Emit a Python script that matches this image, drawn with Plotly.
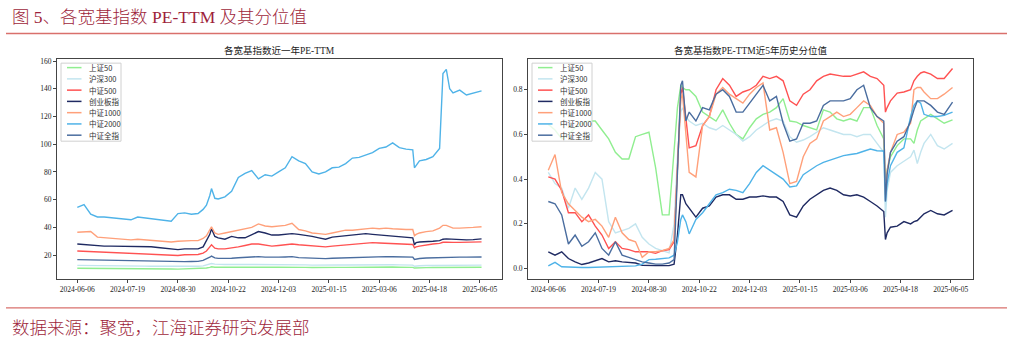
import plotly.graph_objects as go

# ---------------- data ----------------
# trading-day index (0 = 2024-06-06) of each sampled observation
day_idx = [0, 4, 8, 12, 16, 20, 24, 28, 32, 36, 40, 44, 48, 52, 56, 60, 64, 68, 72,
           75, 77, 79, 80, 82,
           84, 88, 92, 96, 100, 104, 108, 112, 116, 120, 124, 128, 132, 136, 140, 144,
           148, 152, 156, 160, 164, 168, 172, 176, 180, 184, 188, 192, 196, 200,
           201, 202,
           204, 208, 212, 216,
           218, 220, 222, 224,
           228, 232, 236, 241]

tick_idx = [0, 30, 60, 90, 120, 150, 180, 210, 240]
tick_labels = ["2024-06-06", "2024-07-19", "2024-08-30", "2024-10-22", "2024-12-03",
               "2025-01-15", "2025-03-06", "2025-04-18", "2025-06-05"]

names = ["上证50", "沪深300", "中证500", "创业板指", "中证1000", "中证2000", "中证全指"]

# PE-TTM (last year)
pe_sz50 = [10.5, 10.5, 10.4, 10.4, 10.3, 10.3, 10.3, 10.2, 10.2, 10.2, 10.2, 10.1, 10.1, 10.0, 10.0, 9.9, 10.0, 10.0, 10.1,
           10.4, 10.7, 11.2, 11.6, 11.3,
           11.2, 11.2, 11.3, 11.3, 11.4, 11.5, 11.5, 11.4, 11.3, 11.3, 11.4, 11.5, 11.3, 11.2, 11.1, 11.0, 11.0, 11.1, 11.2, 11.2,
           11.3, 11.3, 11.3, 11.3, 11.3, 11.3, 11.4, 11.3, 11.3, 11.2,
           10.7, 10.8,
           10.9, 11.0, 11.1, 11.1,
           11.2, 11.2, 11.2, 11.2,
           11.2, 11.2, 11.3, 11.3]
pe_hs300 = [12.6, 12.6, 12.5, 12.4, 12.4, 12.3, 12.3, 12.2, 12.2, 12.1, 12.1, 12.0, 12.0, 11.9, 11.8, 11.7, 11.9, 11.9, 12.0,
            12.3, 12.8, 13.5, 14.0, 13.5,
            13.3, 13.2, 13.3, 13.3, 13.4, 13.5, 13.5, 13.3, 13.2, 13.2, 13.3, 13.4, 13.1, 13.0, 12.8, 12.7, 12.7, 12.8, 12.9, 12.9,
            13.0, 13.0, 13.0, 13.0, 13.0, 13.0, 13.1, 13.0, 12.9, 12.8,
            12.0, 12.2,
            12.3, 12.5, 12.6, 12.7,
            12.7, 12.7, 12.7, 12.7,
            12.7, 12.7, 12.8, 12.8]
pe_zz500 = [23.0, 22.8, 22.3, 22.0, 21.8, 21.7, 21.5, 21.2, 21.0, 21.0, 20.8, 20.7, 20.5, 20.2, 20.0, 19.8, 20.3, 20.4, 20.5,
            21.5, 23.0, 26.0, 27.5, 25.0,
            24.5, 24.5, 25.0, 26.0, 27.0, 28.0, 28.0, 27.0, 26.5, 27.0, 27.3, 28.0, 27.5, 27.0, 27.0, 26.5, 26.0, 26.5, 27.0, 27.5,
            28.0, 28.2, 28.5, 29.0, 28.8, 28.5, 28.2, 28.0, 27.8, 27.7,
            25.3, 26.0,
            26.5, 27.5, 28.0, 28.5,
            29.3, 29.4, 29.2, 29.2,
            29.2, 29.3, 29.4, 29.6]
pe_cyb = [28.0, 27.5, 27.3, 26.5, 26.5, 26.5, 26.5, 26.5, 26.0, 26.5, 26.0, 26.0, 25.5, 25.0, 24.5, 24.0, 24.5, 24.5, 24.5,
          26.0, 30.0, 35.0, 39.0, 33.5,
          32.5, 31.5, 33.5, 32.5, 32.5, 35.0, 37.0, 36.0, 34.5, 34.5, 35.0, 35.5, 35.0, 34.5, 33.5, 32.5, 31.5, 33.0, 33.5, 34.5,
          35.0, 35.0, 35.5, 35.0, 34.5, 34.0, 33.5, 33.0, 32.5, 32.5,
          27.5, 29.0,
          29.5, 29.5, 30.0, 30.5,
          31.5, 31.7, 31.5, 31.5,
          31.0, 31.0, 31.2, 31.7]
pe_zz1000 = [36.5, 37.0, 37.0, 33.0, 32.5, 32.0, 31.5, 31.5, 31.0, 31.5, 31.0, 31.0, 30.5, 30.0, 29.5, 30.0, 30.5, 30.5, 30.5,
             32.0, 34.0, 38.0, 40.5, 36.0,
             35.0, 36.0, 37.0, 38.0, 38.5, 40.0, 42.5, 41.0, 40.5, 41.0, 41.5, 43.0, 38.5, 37.5, 36.0, 35.5, 35.0, 36.0, 37.0, 38.0,
             38.0, 38.5, 39.5, 39.5, 39.0, 39.5, 39.0, 38.5, 38.5, 38.5,
             34.0, 35.0,
             36.0, 37.0, 37.5, 39.5,
             41.5, 41.5, 40.5, 39.5,
             39.5, 39.5, 40.0, 40.5]
pe_zz2000 = [54.5, 56.5, 49.5, 47.5, 47.5, 47.0, 46.0, 46.0, 45.5, 47.5, 47.0, 46.0, 45.5, 45.0, 44.5, 50.0, 50.5, 49.5, 50.0,
             53.0, 56.0, 63.0, 68.0, 61.0,
             60.5, 62.0, 66.0, 76.0, 79.0, 81.0, 75.0, 78.0, 77.0, 80.0, 83.0, 91.0, 88.0, 86.0, 80.0, 78.5, 80.0, 83.0, 83.5, 86.0,
             90.0, 90.5, 92.5, 94.0, 97.0, 98.0, 101.0, 97.5, 96.5, 96.0,
             83.0, 84.5,
             88.0, 89.0, 91.0, 97.0,
             151.0, 154.0, 140.0, 137.0,
             139.0, 135.5, 137.0, 138.5]
pe_zzqz = [16.8, 16.7, 16.5, 16.3, 16.2, 16.2, 16.2, 16.1, 16.0, 16.0, 15.8, 15.7, 15.5, 15.3, 15.1, 15.0, 15.3, 15.4, 15.5,
           16.2, 17.2, 18.5, 19.3, 18.0,
           17.7, 17.6, 17.8, 18.1, 18.4, 18.7, 18.9, 18.6, 18.4, 18.6, 18.7, 18.9, 18.2, 18.0, 17.8, 17.6, 17.5, 17.8, 18.0, 18.2,
           18.4, 18.5, 18.7, 18.8, 18.8, 18.9, 18.8, 18.7, 18.6, 18.6,
           16.9, 17.3,
           17.6, 17.9, 18.1, 18.4,
           18.6, 18.7, 18.6, 18.6,
           18.6, 18.6, 18.6, 18.7]

# PE-TTM percentile over 5 years
pct_sz50 = [0.645, 0.62, 0.58, 0.60, 0.63, 0.65, 0.66, 0.66, 0.62, 0.58, 0.52, 0.49, 0.49, 0.59, 0.60, 0.61, 0.45, 0.24, 0.24,
            0.55, 0.72, 0.82, 0.81, 0.80,
            0.80, 0.77, 0.70, 0.68, 0.66, 0.71, 0.65, 0.60, 0.58, 0.63, 0.67, 0.69, 0.70, 0.72, 0.76, 0.66, 0.655, 0.64, 0.63, 0.62,
            0.71, 0.70, 0.67, 0.66, 0.67, 0.66, 0.72, 0.72, 0.64, 0.58,
            0.37, 0.44,
            0.50, 0.55, 0.58, 0.58,
            0.56, 0.62, 0.66, 0.67,
            0.69, 0.67, 0.65, 0.665]
pct_hs300 = [0.43, 0.38, 0.36, 0.27, 0.36, 0.31, 0.36, 0.43, 0.40, 0.21, 0.16, 0.17, 0.18, 0.20, 0.14, 0.11, 0.09, 0.08, 0.07,
             0.20, 0.50, 0.70, 0.72, 0.68,
             0.66, 0.64, 0.65, 0.63, 0.62, 0.64, 0.62, 0.60, 0.57, 0.59, 0.62, 0.64, 0.66, 0.67, 0.66, 0.59, 0.565, 0.575, 0.59, 0.61,
             0.63, 0.62, 0.61, 0.60, 0.60, 0.59, 0.60, 0.60, 0.56, 0.52,
             0.23, 0.35,
             0.43, 0.46, 0.48, 0.50,
             0.53, 0.47, 0.52, 0.56,
             0.60, 0.55, 0.535, 0.56]
pct_zz500 = [0.41, 0.40, 0.35, 0.25, 0.25, 0.21, 0.24, 0.19, 0.15, 0.09, 0.12, 0.09, 0.085, 0.075, 0.075, 0.075, 0.068, 0.08, 0.085,
             0.12, 0.45, 0.78, 0.81, 0.66,
             0.54, 0.55, 0.64, 0.68, 0.80, 0.85, 0.82, 0.77, 0.79, 0.80, 0.82, 0.86, 0.85, 0.86, 0.84, 0.75, 0.73, 0.78, 0.80, 0.84,
             0.86, 0.87, 0.865, 0.86, 0.86, 0.87, 0.88, 0.86, 0.85, 0.82,
             0.70, 0.72,
             0.75, 0.785, 0.79, 0.80,
             0.84, 0.86, 0.875, 0.88,
             0.87, 0.85, 0.85, 0.895]
pct_cyb = [0.075, 0.06, 0.075, 0.045, 0.03, 0.018, 0.025, 0.035, 0.045, 0.03, 0.035, 0.03, 0.028, 0.025, 0.015, 0.013, 0.013, 0.013, 0.013,
           0.02, 0.15, 0.33, 0.33, 0.29,
           0.27, 0.23, 0.27, 0.28, 0.32, 0.33, 0.33, 0.31, 0.31, 0.32, 0.32, 0.325, 0.32, 0.32, 0.30, 0.24, 0.23, 0.28, 0.31, 0.33,
           0.35, 0.36, 0.35, 0.33, 0.325, 0.33, 0.32, 0.30, 0.28, 0.255,
           0.13, 0.16,
           0.185, 0.19, 0.21, 0.20,
           0.21, 0.215, 0.23, 0.245,
           0.26, 0.245, 0.24, 0.26]
pct_zz1000 = [0.44, 0.51, 0.34, 0.29, 0.26, 0.23, 0.21, 0.22, 0.19, 0.14, 0.23, 0.16, 0.13, 0.12, 0.05, 0.075, 0.075, 0.08, 0.09,
              0.13, 0.45, 0.76, 0.78, 0.60,
              0.43, 0.41, 0.64, 0.68, 0.78, 0.81, 0.78, 0.76, 0.74, 0.78, 0.81, 0.83, 0.62, 0.63, 0.52, 0.38, 0.39, 0.50, 0.56, 0.58,
              0.66, 0.68, 0.70, 0.68, 0.69, 0.72, 0.75, 0.73, 0.68, 0.65,
              0.33, 0.44,
              0.52, 0.60, 0.61, 0.65,
              0.80, 0.81, 0.81, 0.79,
              0.76, 0.76, 0.78, 0.81]
pct_zz2000 = [0.012, 0.028, 0.008, 0.006, 0.005, 0.005, 0.005, 0.006, 0.006, 0.005, 0.006, 0.008, 0.01, 0.012, 0.02, 0.04, 0.042, 0.045, 0.048,
              0.06, 0.12, 0.22, 0.24, 0.21,
              0.155, 0.22, 0.25, 0.29, 0.33, 0.34, 0.355, 0.35, 0.34, 0.38, 0.43, 0.46, 0.44, 0.42, 0.40, 0.365, 0.37, 0.42, 0.44, 0.46,
              0.475, 0.485, 0.495, 0.505, 0.51, 0.515, 0.525, 0.535, 0.527, 0.526,
              0.30, 0.38,
              0.46, 0.52, 0.54, 0.68,
              0.73, 0.75, 0.74, 0.69,
              0.68, 0.68, 0.685, 0.70]
pct_zzqz = [0.30, 0.29, 0.24, 0.11, 0.15, 0.10, 0.12, 0.16, 0.09, 0.06, 0.12, 0.06, 0.05, 0.04, 0.03, 0.025, 0.02, 0.02, 0.025,
            0.04, 0.40, 0.82, 0.84, 0.66,
            0.70, 0.66, 0.72, 0.71, 0.78, 0.80, 0.77, 0.70, 0.70, 0.74, 0.78, 0.82, 0.75, 0.77, 0.65, 0.57, 0.58, 0.65, 0.65, 0.66,
            0.73, 0.75, 0.75, 0.75, 0.76, 0.80, 0.82, 0.72, 0.68, 0.66,
            0.30, 0.42,
            0.52, 0.57, 0.59, 0.66,
            0.71, 0.75, 0.75, 0.75,
            0.73, 0.70, 0.69, 0.745]

pe_series = [pe_sz50, pe_hs300, pe_zz500, pe_cyb, pe_zz1000, pe_zz2000, pe_zzqz]
pct_series = [pct_sz50, pct_hs300, pct_zz500, pct_cyb, pct_zz1000, pct_zz2000, pct_zzqz]

# ---------------- style ----------------
colors = ["#90ee90", "#c3e5ef", "#ff5252", "#1f2a62", "#ffa07a", "#4fb3e8", "#4a6d9f"]
W, H = 1013, 339
L1, R1 = 57, 502
L2, R2 = 528, 973
TOP, BOT = 57, 278.5
RED = "#9e1f3b"
SERIF = "Liberation Serif, Noto Sans CJK SC"
CJK = "Noto Sans CJK SC"

fig = go.Figure()
for k, nm in enumerate(names):
    fig.add_trace(go.Scatter(x=day_idx, y=pe_series[k], mode="lines", name=nm,
                             line=dict(color=colors[k], width=1.4), showlegend=False,
                             xaxis="x", yaxis="y"))
for k, nm in enumerate(names):
    fig.add_trace(go.Scatter(x=day_idx, y=pct_series[k], mode="lines", name=nm,
                             line=dict(color=colors[k], width=1.4), showlegend=False,
                             xaxis="x2", yaxis="y2"))

ydom = [1 - BOT / H, 1 - TOP / H]
axis_common = dict(showline=True, mirror=True, linecolor="#444", linewidth=1,
                   ticks="outside", ticklen=3, tickwidth=1, tickcolor="#444",
                   showgrid=False, zeroline=False,
                   tickfont=dict(family=SERIF, size=7.5, color="#222"))
xr = [-12.1, 253.2]
fig.update_layout(
    width=W, height=H, margin=dict(l=0, r=0, t=0, b=0),
    paper_bgcolor="white", plot_bgcolor="white", showlegend=False,
    xaxis=dict(domain=[L1 / W, R1 / W], range=xr, tickmode="array",
               tickvals=tick_idx, ticktext=tick_labels, anchor="y", **axis_common),
    yaxis=dict(domain=ydom, range=[2.9, 161.7], tickmode="array",
               tickvals=[20, 40, 60, 80, 100, 120, 140, 160], anchor="x", **axis_common),
    xaxis2=dict(domain=[L2 / W, R2 / W], range=xr, tickmode="array",
                tickvals=tick_idx, ticktext=tick_labels, anchor="y2", **axis_common),
    yaxis2=dict(domain=ydom, range=[-0.046, 0.939], tickmode="array",
                tickvals=[0.0, 0.2, 0.4, 0.6, 0.8], tickformat=".1f", anchor="x2", **axis_common),
)

shapes = []
annots = []
# header / footer
annots.append(dict(text="图 5、各宽基指数 PE-TTM 及其分位值", x=10 / W, y=1 - 15 / H,
                   xref="paper", yref="paper", xanchor="left", yanchor="middle",
                   showarrow=False, font=dict(family=SERIF, size=17.5, color=RED, weight=300)))
annots.append(dict(text="数据来源：聚宽，江海证券研究发展部", x=10 / W, y=1 - 326.5 / H,
                   xref="paper", yref="paper", xanchor="left", yanchor="middle",
                   showarrow=False, font=dict(family=CJK, size=17.5, color=RED, weight=300)))
for yy in (31.7, 307.7):
    shapes.append(dict(type="line", xref="paper", yref="paper", x0=6 / W, x1=1007 / W,
                       y0=1 - yy / H, y1=1 - yy / H, line=dict(color="#d9706c", width=1.3)))

# subplot titles
for (l, r), txt in (((L1, R1), "各宽基指数近一年PE-TTM"), ((L2, R2), "各宽基指数PE-TTM近5年历史分位值")):
    annots.append(dict(text=txt, x=(l + r) / 2 / W, y=1 - 49 / H, xref="paper", yref="paper",
                       xanchor="center", yanchor="middle", showarrow=False,
                       font=dict(family=SERIF, size=9.5, color="#222")))

# legends
pw = R1 - L1
ph = BOT - TOP
for ax, (xd, yd) in (("", ("x domain", "y domain")), ("2", ("x2 domain", "y2 domain"))):
    shapes.append(dict(type="rect", xref=xd, yref=yd, x0=4 / pw, x1=64 / pw,
                       y0=1 - 83 / ph, y1=1 - 4.5 / ph, layer="above",
                       fillcolor="rgba(255,255,255,0.8)", line=dict(color="#d0d0d0", width=1)))
    for k, nm in enumerate(names):
        yy = 1 - (9 + 11.33 * k) / ph
        shapes.append(dict(type="line", xref=xd, yref=yd, x0=10 / pw, x1=24.5 / pw,
                           y0=yy, y1=yy, layer="above", line=dict(color=colors[k], width=1.5)))
        annots.append(dict(text=nm, xref=xd, yref=yd, x=30 / pw, y=yy, xanchor="left",
                           yanchor="middle", showarrow=False,
                           font=dict(family=CJK, size=7.5, color="#333")))

fig.update_layout(shapes=shapes, annotations=annots)
fig.write_html("out.html")
